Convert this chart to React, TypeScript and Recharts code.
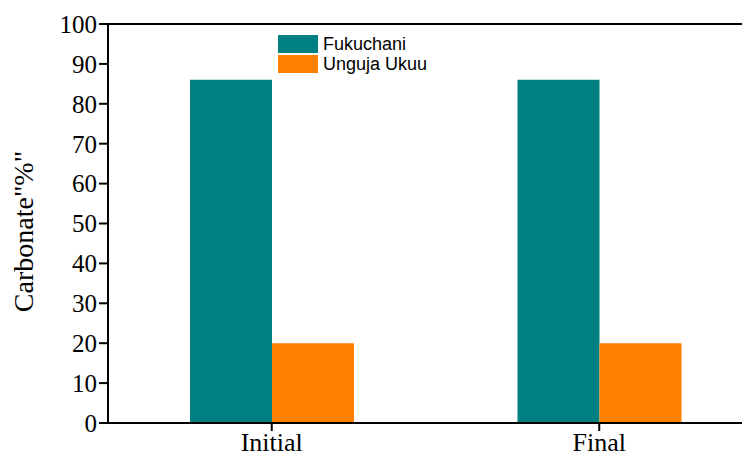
import { Bar, BarChart, ReferenceLine, XAxis, YAxis } from "recharts";

const periods = ["Initial", "Final"];
const fukuchani = [86, 86];
const ungujaUkuu = [20, 20];
const yTicks = [0, 10, 20, 30, 40, 50, 60, 70, 80, 90, 100];

const data = periods.map((period, i) => ({
  period,
  fukuchani: fukuchani[i],
  ungujaUkuu: ungujaUkuu[i],
}));

const serif = "'Liberation Serif', 'Times New Roman', serif";

const legendItems = [
  { label: "Fukuchani", color: "#008080" },
  { label: "Unguja Ukuu", color: "#FF8000" },
];

function LegendBox() {
  return (
    <div
      style={{
        position: "absolute",
        left: 278,
        top: 34,
        fontFamily: "'Liberation Sans', Arial, sans-serif",
        fontSize: 18,
        lineHeight: "20px",
      }}
    >
      {legendItems.map((it) => (
        <div key={it.label} style={{ display: "flex", alignItems: "center", height: 20 }}>
          <span style={{ width: 40, height: 18, background: it.color, display: "inline-block" }} />
          <span style={{ marginLeft: 5, color: "#000" }}>{it.label}</span>
        </div>
      ))}
    </div>
  );
}

export default function App() {
  return (
    <div
      style={{
        position: "relative",
        margin: -8,
        width: 750,
        height: 460,
        overflow: "hidden",
        background: "#fff",
      }}
    >
      <BarChart
        width={763}
        height={460}
        data={data}
        margin={{ top: 24, right: 0, bottom: 7, left: 0 }}
        barGap={0}
        barSize={82}
      >
        <XAxis
          dataKey="period"
          stroke="#000"
          strokeWidth={2}
          tickSize={8}
          height={30}
          tick={{ fill: "#000", fontFamily: serif, fontSize: 26 }}
        />
        <YAxis
          domain={[0, 100]}
          ticks={yTicks}
          interval={0}
          width={108}
          stroke="#000"
          strokeWidth={2}
          tickSize={9}
          tick={{ fill: "#000", fontFamily: serif, fontSize: 25 }}
          label={{
            value: 'Carbonate"%"',
            angle: -90,
            position: "insideLeft",
            dx: 18,
            dy: 8,
            style: { fill: "#000", fontFamily: serif, fontSize: 28, textAnchor: "middle" },
          }}
        />
        <ReferenceLine y={100} stroke="#000" strokeWidth={2} />
        <Bar dataKey="fukuchani" name="Fukuchani" fill="#008080" isAnimationActive={false} />
        <Bar dataKey="ungujaUkuu" name="Unguja Ukuu" fill="#FF8000" isAnimationActive={false} />
      </BarChart>
      <LegendBox />
    </div>
  );
}
